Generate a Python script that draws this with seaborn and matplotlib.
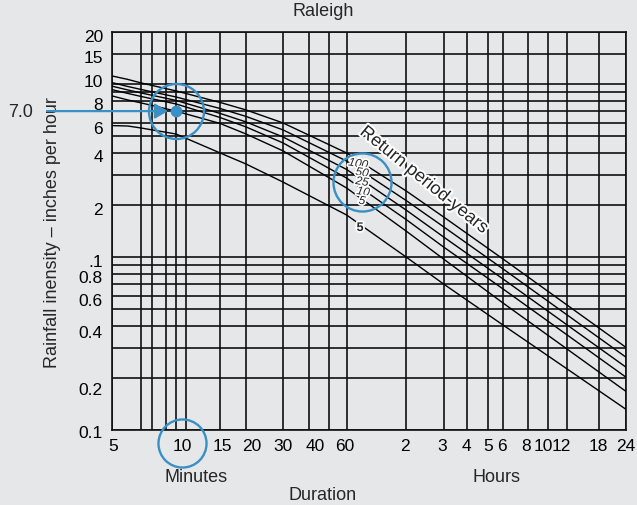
import numpy as np
import pandas as pd
import matplotlib
matplotlib.use("Agg")
import matplotlib.pyplot as plt
import matplotlib.patheffects as pe
from matplotlib.transforms import ScaledTranslation
import seaborn as sns

# ---------------- data: Raleigh rainfall intensity-duration-frequency ----------------
duration_min = [5, 6, 7, 10, 15, 20, 30, 60, 120, 180, 360, 1440]

intensity_100yr = [11.18, 10.68, 10.19, 9.16, 7.86, 7.11, 5.98, 4.01, 2.42, 1.71, 0.976, 0.302]
intensity_50yr = [10.23, 9.72, 9.34, 8.45, 7.25, 6.52, 5.45, 3.60, 2.13, 1.50, 0.855, 0.265]
intensity_25yr = [9.76, 9.28, 8.92, 8.07, 6.79, 6.06, 4.96, 3.22, 1.875, 1.31, 0.748, 0.232]
intensity_10yr = [9.32, 8.86, 8.51, 7.70, 6.43, 5.67, 4.58, 2.87, 1.653, 1.146, 0.655, 0.203]
intensity_5yr = [8.57, 8.12, 7.81, 7.00, 5.94, 5.16, 4.12, 2.515, 1.418, 0.976, 0.543, 0.168]
intensity_lowest = [5.77, 5.74, 5.59, 5.16, 4.01, 3.46, 2.72, 1.755, 1.003, 0.700, 0.405, 0.1323]

curve_labels = ["100", "50", "25", "10", "5", "5"]

read_duration = 10
read_intensity = 7.0

x_tick_values = [5, 10, 15, 20, 30, 40, 60, 120, 180, 240, 300, 360, 480, 600, 720, 1080, 1440]
x_tick_labels = ["5", "10", "15", "20", "30", "40", "60", "2", "3", "4", "5", "6", "8", "10", "12", "18", "24"]
y_tick_values = [20, 15, 10, 8, 6, 4, 2, 1, 0.8, 0.6, 0.4, 0.2, 0.1]
y_tick_labels = ["20", "15", "10", "8", "6", "4", "2", ".1", "0.8", "0.6", "0.4", "0.2", "0.1"]

grid_minutes = [5, 7, 8, 9, 10, 11, 15, 20, 30, 40, 50, 60, 120, 180, 240, 300, 360, 480, 600, 720, 1080, 1440]
grid_intensity = [0.1, 0.2, 0.3, 0.4, 0.5, 0.6, 0.7, 0.8, 0.9,
                  1, 2, 3, 4, 5, 6, 7, 8, 9, 10, 15, 20]

# ---------------- styling ----------------
BG = "#e6e7e9"
BLUE = "#3a90c4"
INK = "#111111"
W, H = 637, 506                       # figure size in pixels (dpi 100)
AX_L, AX_R, AX_T, AX_B = 112, 625.5, 33.3, 431

# The duration axis is a hand-ruled log paper: each ruling has its own offset (px).
grid_minutes_px = [112, 141, 152, 166, 176, 186, 220, 246, 283, 309, 329, 346.5,
                   406, 443.5, 467, 488, 503, 528, 548, 567, 599, 625.5]

_lg = np.log10(np.asarray(grid_minutes, float))
_px = np.asarray(grid_minutes_px, float)


def _interp_extrap(v, xs, ys):
    out = np.interp(v, xs, ys)
    lo_slope = (ys[1] - ys[0]) / (xs[1] - xs[0])
    hi_slope = (ys[-1] - ys[-2]) / (xs[-1] - xs[-2])
    out = np.where(v < xs[0], ys[0] + (v - xs[0]) * lo_slope, out)
    out = np.where(v > xs[-1], ys[-1] + (v - xs[-1]) * hi_slope, out)
    return out


def duration_forward(m):
    m = np.clip(np.asarray(m, float), 1e-3, None)
    return _interp_extrap(np.log10(m), _lg, _px)


def duration_inverse(p):
    return 10 ** _interp_extrap(np.asarray(p, float), _px, _lg)


sns.set_style("white")
plt.rcParams["font.family"] = ["Liberation Sans", "DejaVu Sans"]
plt.rcParams["font.size"] = 13

series = [intensity_100yr, intensity_50yr, intensity_25yr,
          intensity_10yr, intensity_5yr, intensity_lowest]
df = pd.DataFrame({
    "duration": np.tile(duration_min, len(series)),
    "intensity": np.concatenate(series),
    "curve": np.repeat(np.arange(len(series)), len(duration_min)),
})

fig = plt.figure(figsize=(W / 100, H / 100), dpi=100, facecolor=BG)
ax = fig.add_axes([AX_L / W, 1 - AX_B / H, (AX_R - AX_L) / W, (AX_B - AX_T) / H], facecolor=BG)
ax.set_xscale("function", functions=(duration_forward, duration_inverse))
ax.set_yscale("log")
ax.set_xlim(5, 1440)
ax.set_ylim(0.1, 20)

# ruled grid
for m in grid_minutes:
    ax.axvline(m, color=INK, lw=1.2, zorder=1)
for v in grid_intensity:
    ax.axhline(v, color=INK, lw=1.2, zorder=1)

sns.lineplot(data=df, x="duration", y="intensity", hue="curve",
             palette=["black"] * len(series), legend=False, errorbar=None,
             linewidth=1.0, ax=ax, zorder=3)

ax.set_xticks(x_tick_values, x_tick_labels)
ax.set_yticks(y_tick_values, y_tick_labels)
ax.minorticks_off()
ax.tick_params(which="both", length=0, labelsize=12.5, colors="black")
ax.tick_params(axis="x", pad=5.5)
ax.tick_params(axis="y", pad=6.5)
for s in ax.spines.values():
    s.set_color(INK)
    s.set_linewidth(1.2)

# small hand-placed shifts of the printed tick labels (px; +x right, +y down)
x_label_shift = [1, 6, 2, 6, 0, 6, -2, -1, -1, -1, 0, -1, -2, -4.5, -6, -1, 0]
y_label_shift = [2.5, 2.6, -4.5, 1.9, 3.9, 1.9, 2.9, 2.4, 2.1, 3.1, 4.6, 10.1, 1]
for lab, dx in zip(ax.get_xticklabels(), x_label_shift):
    lab.set_transform(lab.get_transform() + ScaledTranslation(dx / 100, 0, fig.dpi_scale_trans))
for lab, dy in zip(ax.get_yticklabels(), y_label_shift):
    lab.set_transform(lab.get_transform() + ScaledTranslation(0, -dy / 100, fig.dpi_scale_trans))

ax.set_xlabel("Duration", fontsize=13, va="center")
ax.xaxis.set_label_coords(0.411, -0.1634)
ax.set_ylabel("Rainfall inensity \u2013 inches per hour", fontsize=13, va="center")
ax.yaxis.set_label_coords(-0.115, 0.5)
ax.text(0.411, 1.0536, "Raleigh", transform=ax.transAxes, ha="center", va="center", fontsize=13)
ax.text(0.163, -0.118, "Minutes", transform=ax.transAxes, ha="center", va="center", fontsize=13)
ax.text(0.748, -0.118, "Hours", transform=ax.transAxes, ha="center", va="center", fontsize=13)

halo = [pe.withStroke(linewidth=3, foreground="white")]
ax.text(145.3, 2.795, "Return period-years", rotation=-39, rotation_mode="anchor",
        ha="center", va="center", fontsize=13, path_effects=halo, zorder=6)

label_spots = [(68.6, 3.46), (71.8, 3.07), (71.8, 2.72), (72.7, 2.38), (71.8, 2.11), (70.3, 1.475)]
for i, (lab, (lx, ly)) in enumerate(zip(curve_labels, label_spots)):
    last = i == len(curve_labels) - 1
    ax.text(lx, ly, lab, ha="center", va="center",
            fontsize=9 if last else 8.5,
            fontweight="bold" if last else "normal",
            style="normal" if last else "italic",
            rotation=0 if last else -10,
            path_effects=[pe.withStroke(linewidth=2.5, foreground="white")], zorder=6)

# worked example in blue
ax.annotate("", xy=(read_duration, read_intensity), xycoords="data",
            xytext=(-0.1266, read_intensity), textcoords=("axes fraction", "data"),
            arrowprops=dict(arrowstyle="-|>,head_length=0.6,head_width=0.35", color=BLUE,
                            lw=1.6, shrinkA=0, shrinkB=5.8),
            annotation_clip=False, zorder=5)
ax.plot(read_duration, read_intensity, marker="o", ms=7.5, color=BLUE, zorder=6, clip_on=False)
ax.plot(read_duration, read_intensity, marker="o", ms=39.6, mfc="none", mec=BLUE, mew=1.7,
        zorder=5, clip_on=False)
ax.plot(71.8, 2.74, marker="o", ms=41.8, mfc="none", mec=BLUE, mew=1.7, zorder=5, clip_on=False)
ax.plot(0.1355, -0.0327, marker="o", ms=34.6, mfc="none", mec=BLUE, mew=1.7,
        transform=ax.transAxes, zorder=5, clip_on=False)
ax.text(-0.179, read_intensity, f"{read_intensity:.1f}", transform=ax.get_yaxis_transform(),
        ha="center", va="center", fontsize=13)

fig.savefig("out.png", dpi=100, facecolor=BG)
